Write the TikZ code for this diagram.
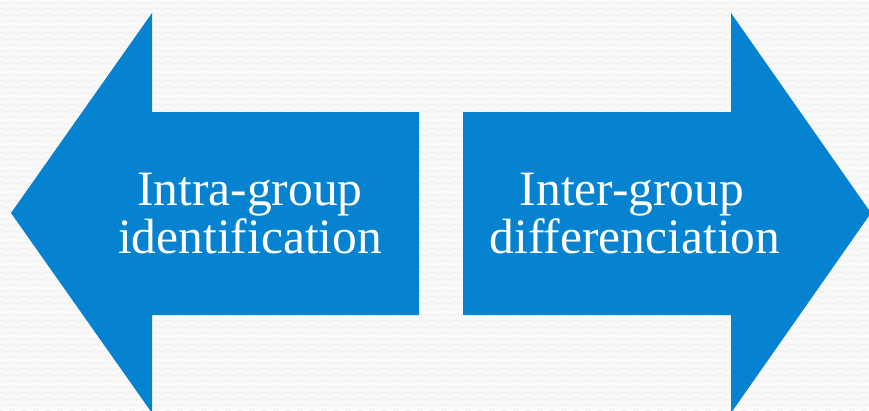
\documentclass[tikz,border=0pt]{standalone}
\usepackage{fontspec}
\setmainfont{Liberation Serif}
\definecolor{arrowblue}{HTML}{0683D0}
\definecolor{bgwhite}{HTML}{F9F9F9}
\definecolor{bgzig}{HTML}{EFEFEF}
\begin{document}
\begin{tikzpicture}[x=1pt,y=-1pt,
  bigarrow/.style={fill=arrowblue,draw=none},
  label/.style={text=white,font=\fontsize{49.5}{49.5}\selectfont,anchor=base,inner sep=0pt}]
\useasboundingbox (0,0) rectangle (869,410);
\fill[bgwhite] (0,0) rectangle (869,410);
\begin{scope}
\clip (0,0) rectangle (869,410);
\foreach \r in {0,...,68}{
  \draw[bgzig,line width=0.7pt] plot[domain=0:146,samples=147] ({6*\x},{6*\r+3+2*mod(\x,2)-1});
}
\end{scope}
% left arrow
\path[bigarrow] (11,213) -- (152,13) -- (152,112) -- (419,112) -- (419,315) -- (152,315) -- (152,413) -- cycle;
% right arrow
\path[bigarrow] (871,213) -- (731,13) -- (731,112) -- (463,112) -- (463,315) -- (731,315) -- (731,413) -- cycle;
\node[label] (l1) at (250,205) {Intra-group};
\node[label] (l2) at (250,253) {identification};
\node[label] (r1) at (632,205) {Inter-group};
\node[label] (r2) at (635,253) {differenciation};
\end{tikzpicture}
\end{document}
